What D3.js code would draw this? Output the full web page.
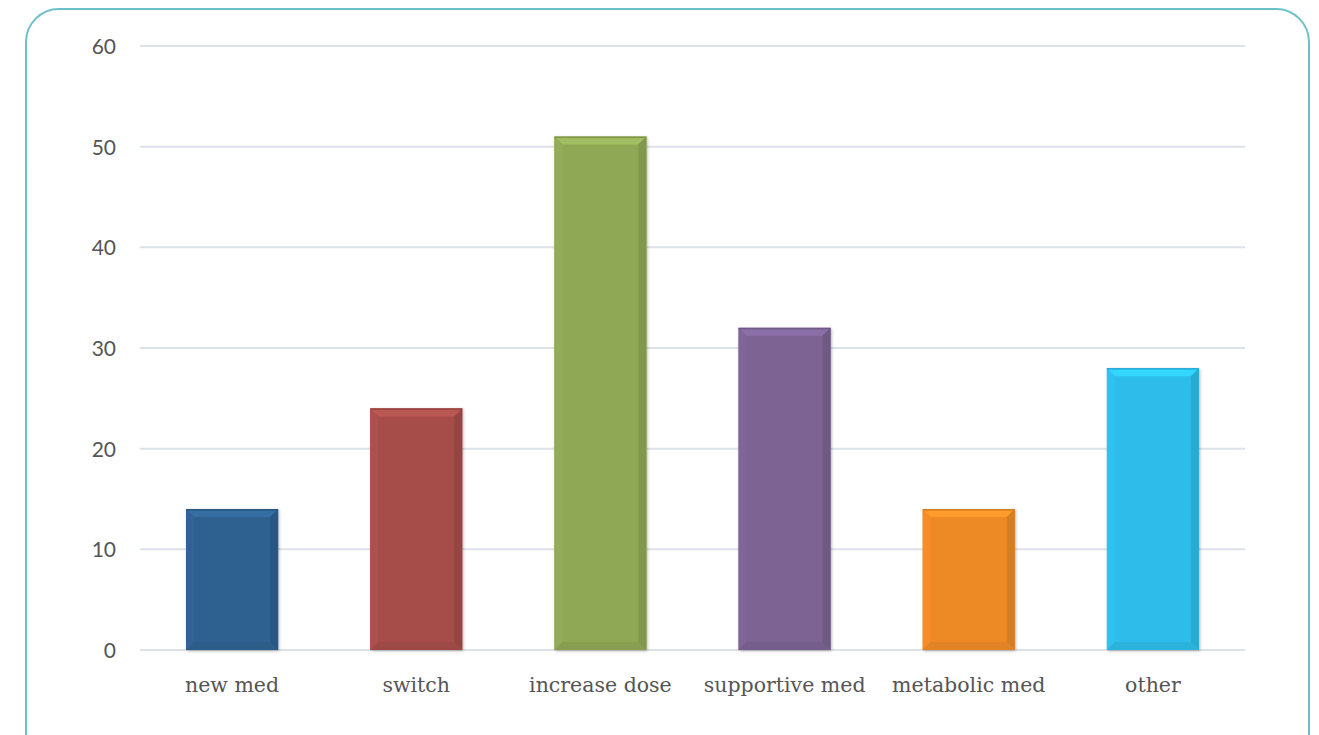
<!DOCTYPE html>
<html><head><meta charset="utf-8">
<script src="https://cdn.jsdelivr.net/npm/d3@7"></script>
<style>html,body{margin:0;padding:0;background:#fff;}svg{display:block;}</style>
</head><body>
<svg id="c" width="1319" height="735"></svg>
<script>
const categories = ["new med","switch","increase dose","supportive med","metabolic med","other"];
const values = [14,24,51,32,14,28];
const colors = ["#2e6190","#a64e4a","#8fa855","#7b6394","#ee8a27","#2dbdea"];
const yTicks = [0,10,20,30,40,50,60];

const svg = d3.select("#c");
// frame
svg.append("rect").attr("x",26).attr("y",9).attr("width",1283).attr("height",800)
  .attr("rx",33).attr("ry",33).attr("fill","#fff").attr("stroke","#6cc1c9").attr("stroke-width",2);

const x = d3.scaleBand().domain(categories).range([140,1245]).paddingInner(0.5).paddingOuter(0.25);
const y = d3.scaleLinear().domain([0,60]).range([650,46]);

const g = svg.append("g");
// gridlines
g.selectAll("line.grid").data(yTicks).join("line")
  .attr("x1",140).attr("x2",1245).attr("y1",d=>y(d)).attr("y2",d=>y(d))
  .attr("stroke","#dde2e8").attr("stroke-width",2);

// y axis labels
const yAxis = d3.axisLeft(y).tickValues(yTicks).tickSize(0).tickPadding(0);
const ya = svg.append("g").attr("transform","translate(116,0)").call(yAxis);
ya.select(".domain").remove();
ya.selectAll("text").attr("font-family","Lato, 'Noto Sans', sans-serif").attr("font-size",21)
  .attr("fill","#555").attr("dy","0.35em");

// x axis labels
const xAxis = d3.axisBottom(x).tickSize(0).tickPadding(0);
const xa = svg.append("g").attr("transform","translate(0,685)").call(xAxis);
xa.select(".domain").remove();
xa.selectAll("text").attr("font-family","'DejaVu Serif', 'Liberation Serif', serif").attr("font-size",20.5)
  .attr("fill","#555").attr("dy","0.35em");

// bars with bevel
const defs = svg.append("defs");
const f = defs.append("filter").attr("id","sh").attr("x","-10%").attr("y","-10%").attr("width","130%").attr("height","130%");
f.append("feDropShadow").attr("dx",1).attr("dy",1).attr("stdDeviation",1.5).attr("flood-color","#000").attr("flood-opacity",0.3);

const bars = g.selectAll("g.bar").data(categories.map((c,i)=>({c,v:values[i],col:colors[i]}))).join("g");
const b = 8;
bars.each(function(d){
  const sel = d3.select(this);
  const x0 = x(d.c), x1 = x0 + x.bandwidth(), y0 = y(d.v), y1 = y(0);
  const base = d3.color(d.col);
  sel.append("rect").attr("x",x0).attr("y",y0).attr("width",x1-x0).attr("height",y1-y0)
    .attr("fill",d.col).attr("filter","url(#sh)");
  sel.append("polygon").attr("points",[[x0,y0],[x1,y0],[x1-b,y0+b],[x0+b,y0+b]].join(" "))
    .attr("fill",base.brighter(0.35));
  sel.append("polygon").attr("points",[[x0,y0],[x0+b,y0+b],[x0+b,y1-b],[x0,y1]].join(" "))
    .attr("fill",base.brighter(0.08));
  sel.append("polygon").attr("points",[[x1,y0],[x1-b,y0+b],[x1-b,y1-b],[x1,y1]].join(" "))
    .attr("fill",base.darker(0.3));
  sel.append("polygon").attr("points",[[x0,y1],[x0+b,y1-b],[x1-b,y1-b],[x1,y1]].join(" "))
    .attr("fill",base.darker(0.15));
  sel.append("rect").attr("x",x0).attr("y",y0).attr("width",x1-x0).attr("height",1.5).attr("fill",base.darker(0.3));
});
</script>
</body></html>
